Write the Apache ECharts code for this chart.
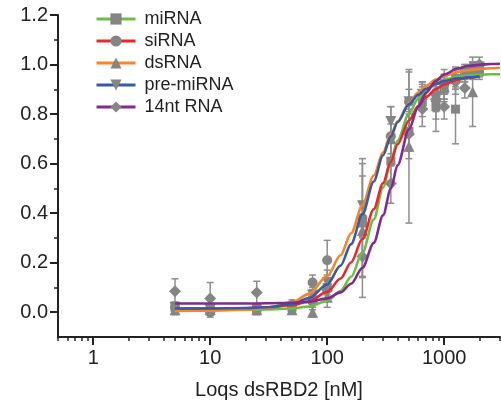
<!DOCTYPE html>
<html>
<head>
<meta charset="utf-8">
<script src="https://cdn.jsdelivr.net/npm/echarts@6/dist/echarts.min.js"></script>
<style>
html, body { margin: 0; padding: 0; background: #fff; }
#chart { width: 501px; height: 409px; }
</style>
</head>
<body>
<div id="chart"></div>
<script>
// Loqs dsRBD2 concentration (nM) of the measured points
var conc = [5, 10, 25, 50, 75, 100, 200, 350, 500, 650, 850, 1000, 1250, 1500, 1750, 2000];

// measured fraction bound (mean) and error
var miRNA       = [0.02, 0.01, 0.01, 0.02, 0.05, 0.10, 0.36, 0.61, 0.73, 0.85, 0.83, 0.90, 0.82, 0.96, 0.97, 0.97];
var miRNAErr    = [0.02, 0.02, 0.01, 0.02, 0.03, 0.05, 0.06, 0.08, 0.08, 0.06, 0.10, 0.05, 0.14, 0.03, 0.03, 0.03];
var siRNA       = [0.02, 0.00, 0.01, 0.02, 0.12, 0.21, 0.38, 0.71, 0.85, 0.87, 0.88, 0.92, 0.94, 0.97, 0.99, 0.99];
var siRNAErr    = [0.02, 0.02, 0.02, 0.02, 0.03, 0.08, 0.24, 0.12, 0.12, 0.05, 0.04, 0.06, 0.04, 0.03, 0.02, 0.02];
var dsRNA       = [0.01, 0.01, 0.01, 0.01, 0.00, 0.06, 0.33, 0.70, 0.67, 0.88, 0.87, 0.91, 0.95, 0.97, 0.89, 0.98];
var dsRNAErr    = [0.02, 0.01, 0.01, 0.01, 0.02, 0.04, 0.27, 0.06, 0.31, 0.05, 0.05, 0.05, 0.04, 0.03, 0.14, 0.03];
var preMiRNA    = [0.02, 0.01, 0.01, 0.02, 0.07, 0.12, 0.43, 0.77, 0.85, 0.88, 0.84, 0.92, 0.94, 0.96, 0.98, 0.99];
var preMiRNAErr = [0.02, 0.01, 0.01, 0.02, 0.03, 0.05, 0.12, 0.06, 0.05, 0.05, 0.06, 0.04, 0.04, 0.03, 0.03, 0.02];
var nt14        = [0.085, 0.055, 0.08, 0.03, 0.04, 0.09, 0.225, 0.52, 0.72, 0.82, 0.86, 0.83, 0.93, 0.905, 0.98, 1.00];
var nt14Err     = [0.05, 0.065, 0.045, 0.02, 0.03, 0.04, 0.08, 0.08, 0.10, 0.07, 0.05, 0.05, 0.05, 0.04, 0.03, 0.03];

// fitted curves
var fitX        = [5, 10, 20, 30, 50, 70, 100, 130, 160, 200, 250, 300, 350, 400, 500, 600, 700, 850, 1000, 1300, 1600, 2000, 2500, 3000];
var fitMiRNA    = [0.010, 0.010, 0.010, 0.011, 0.015, 0.023, 0.046, 0.086, 0.143, 0.240, 0.375, 0.503, 0.610, 0.693, 0.802, 0.863, 0.897, 0.924, 0.939, 0.951, 0.956, 0.959, 0.961, 0.961];
var fitSiRNA    = [0.015, 0.015, 0.016, 0.019, 0.028, 0.044, 0.082, 0.136, 0.201, 0.296, 0.416, 0.521, 0.608, 0.678, 0.774, 0.832, 0.869, 0.901, 0.920, 0.939, 0.947, 0.953, null, null];
var fitDsRNA    = [0.005, 0.006, 0.010, 0.017, 0.040, 0.074, 0.146, 0.230, 0.319, 0.432, 0.552, 0.646, 0.718, 0.771, 0.844, 0.887, 0.914, 0.939, 0.954, 0.970, 0.977, 0.982, 0.985, 0.987];
var fitPreMiRNA = [0.015, 0.015, 0.017, 0.020, 0.033, 0.057, 0.112, 0.188, 0.275, 0.395, 0.528, 0.633, 0.710, 0.767, 0.839, 0.878, 0.902, 0.922, 0.933, 0.944, 0.948, 0.951, null, null];
var fit14nt     = [0.035, 0.035, 0.035, 0.036, 0.038, 0.042, 0.056, 0.080, 0.115, 0.179, 0.280, 0.391, 0.499, 0.594, 0.739, 0.830, 0.886, 0.934, 0.960, 0.984, 0.994, 0.999, 1.002, 1.003];

// axis ticks
var xMajor = [1, 10, 100, 1000];
var xMinor = [0.5, 0.6, 0.7, 0.8, 0.9, 2, 3, 4, 5, 6, 7, 8, 9, 20, 30, 40, 50, 60, 70, 80, 90, 200, 300, 400, 500, 600, 700, 800, 900, 2000, 3000];
var yMajor = [0, 0.2, 0.4, 0.6, 0.8, 1.0, 1.2];
var yMinor = [0.1, 0.3, 0.5, 0.7, 0.9, 1.1];

var names   = ['miRNA', 'siRNA', 'dsRNA', 'pre-miRNA', '14nt RNA'];
var colors  = ['#6cbd45', '#e52a2f', '#f5862a', '#3a59a6', '#7f2c8d'];
var symbols = ['rect', 'circle', 'triangle', 'path://M0,0L10,0L5,10Z', 'diamond'];
var symSize = [9, 10, 11, 11, 12];
var means   = [miRNA, siRNA, dsRNA, preMiRNA, nt14];
var errs    = [miRNAErr, siRNAErr, dsRNAErr, preMiRNAErr, nt14Err];
var fits    = [fitMiRNA, fitSiRNA, fitDsRNA, fitPreMiRNA, fit14nt];

var lg = Math.log10;
var grey = '#858585';
var font = 'Liberation Sans';

function errorBar(params, api) {
  var x = api.value(0);
  var top = api.coord([x, api.value(2)]);
  var bot = api.coord([x, api.value(1)]);
  var w = 3.5;
  var st = { stroke: '#8e8e8e', lineWidth: 1.5 };
  return {
    type: 'group',
    children: [
      { type: 'line', shape: { x1: top[0], y1: top[1], x2: bot[0], y2: bot[1] }, style: st },
      { type: 'line', shape: { x1: top[0] - w, y1: top[1], x2: top[0] + w, y2: top[1] }, style: st },
      { type: 'line', shape: { x1: bot[0] - w, y1: bot[1], x2: bot[0] + w, y2: bot[1] }, style: st }
    ]
  };
}

var series = [];
// error bars first
names.forEach(function (n, i) {
  series.push({
    name: n + ' err',
    type: 'custom',
    renderItem: errorBar,
    encode: { x: 0, y: [1, 2] },
    z: 1,
    data: conc.map(function (c, j) { return [lg(c), means[i][j] - errs[i][j], means[i][j] + errs[i][j]]; })
  });
});
// points
names.forEach(function (n, i) {
  series.push({
    name: n + ' pts',
    type: 'scatter',
    symbol: symbols[i],
    symbolSize: symSize[i],
    itemStyle: { color: grey, opacity: 1 },
    z: 2,
    data: conc.map(function (c, j) { return [lg(c), means[i][j]]; })
  });
});
// fitted curves (these also feed the legend icons)
names.forEach(function (n, i) {
  var f = fits[i];
  series.push({
    name: n,
    type: 'line',
    symbol: symbols[i],
    showSymbol: false,
    smooth: 0.3,
    smoothMonotone: 'x',
    itemStyle: { color: grey },
    lineStyle: { color: colors[i], width: 2.6 },
    z: 3,
    data: fitX.map(function (c, j) { return f[j] == null ? null : [lg(c), f[j]]; })
  });
});

var chart = echarts.init(document.getElementById('chart'), null, { renderer: 'canvas' });
chart.setOption({
  animation: false,
  backgroundColor: '#fff',
  grid: { left: 58, right: 1, top: 15, bottom: 72 },
  legend: {
    data: names,
    orient: 'vertical',
    left: 90,
    top: 5,
    itemWidth: 39,
    itemHeight: 14,
    itemGap: 4,
    selectedMode: false,
    lineStyle: { width: 3 },
    textStyle: { fontFamily: font, fontSize: 18, color: '#222', padding: [0, 0, 0, 4] }
  },
  xAxis: [{
    type: 'value',
    min: lg(0.5),
    max: lg(3000),
    name: 'Loqs dsRBD2 [nM]',
    nameLocation: 'middle',
    nameGap: 43,
    nameTextStyle: { fontFamily: font, fontSize: 20, color: '#222' },
    splitLine: { show: false },
    axisLine: { onZero: false, lineStyle: { color: '#222', width: 2 } },
    axisTick: { length: 8, lineStyle: { color: '#222', width: 2 }, customValues: xMajor.map(lg) },
    axisLabel: {
      customValues: xMajor.map(lg),
      margin: 11,
      fontFamily: font, fontSize: 20, color: '#222',
      formatter: function (v) { return String(Math.round(Math.pow(10, v))); }
    }
  }, {
    type: 'value',
    position: 'bottom',
    min: lg(0.5),
    max: lg(3000),
    splitLine: { show: false },
    axisLine: { show: false, onZero: false },
    axisLabel: { show: false },
    axisTick: { length: 4, lineStyle: { color: '#222', width: 1.5 }, customValues: xMinor.map(lg) }
  }],
  yAxis: [{
    type: 'value',
    min: -0.1,
    max: 1.2,
    splitLine: { show: false },
    axisLine: { show: true, onZero: false, lineStyle: { color: '#222', width: 2 } },
    axisTick: { show: true, length: 8, lineStyle: { color: '#222', width: 2 }, customValues: yMajor },
    axisLabel: {
      customValues: yMajor,
      margin: 10,
      fontFamily: font, fontSize: 20, color: '#222',
      formatter: function (v) { return v.toFixed(1); }
    }
  }, {
    type: 'value',
    position: 'left',
    min: -0.1,
    max: 1.2,
    splitLine: { show: false },
    axisLine: { show: false, onZero: false },
    axisLabel: { show: false },
    axisTick: { show: true, length: 4, lineStyle: { color: '#222', width: 1.5 }, customValues: yMinor }
  }],
  series: series
});
</script>
</body>
</html>
